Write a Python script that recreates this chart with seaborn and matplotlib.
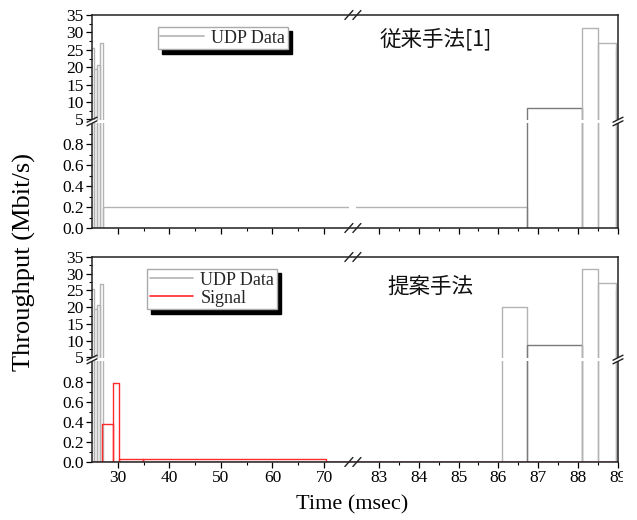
import numpy as np
import pandas as pd
import matplotlib
matplotlib.use("Agg")
import matplotlib.pyplot as plt
import seaborn as sns
from matplotlib.lines import Line2D
from matplotlib.patches import Rectangle
from matplotlib.ticker import FixedLocator, FixedFormatter, NullFormatter

# ---------------- data ----------------
# top panel (conventional method) : UDP data, bar edges (ms) and throughput (Mbit/s)
udp_edges_top = [24.6, 25.45, 26.02, 26.55, 27.08, 86.71, 88.1, 88.49, 88.94, 89.5]
udp_vals_top = [25.4, 19.4, 20.7, 26.9, 0.2, 8.4, 31.3, 26.9, 25.2]
# bottom panel (proposed method) : UDP data
udp_edges_bot = [24.6, 25.45, 26.02, 26.55, 27.08, 86.1, 86.71, 88.1, 88.49, 88.94, 89.5]
udp_vals_bot = [25.4, 19.4, 20.7, 26.9, 0.0, 20.2, 8.7, 31.4, 27.1, 25.2]
# bottom panel : Signal
sig_edges = [24.6, 27.0, 29.1, 30.2, 34.8, 70.3, 89.5]
sig_vals = [0.004, 0.38, 0.79, 0.025, 0.032, 0.004]

x_major = [30, 40, 50, 60, 70, 83, 84, 85, 86, 87, 88, 89]
x_minor = [35, 45, 55, 65, 83.5, 84.5, 85.5, 86.5, 87.5, 88.5]
y_major = [0.0, 0.2, 0.4, 0.6, 0.8, 5, 10, 15, 20, 25, 30, 35]
y_major_labels = ["0.0", "0.2", "0.4", "0.6", "0.8", "5", "10", "15", "20", "25", "30", "35"]
y_minor = [0.1, 0.3, 0.5, 0.7, 0.9, 7.5, 12.5, 17.5, 22.5, 27.5, 32.5]

titles = ["従来手法[1]", "提案手法"]
legend_labels = ["UDP Data", "Signal"]
xlabel = "Time (msec)"
ylabel = "Throughput (Mbit/s)"

# ---------------- broken-axis scales ----------------
XL, XB1, XB2, XR = 25.0, 75.6, 82.35, 89.0
FX = 0.496  # fraction of width for left segment
KX = ((XB1 - XL) * (1 - FX) / FX) / (XR - XB2)

YL, YB1, YB2, YT = 0.0, 1.02, 4.4, 35.0
KY = (YB1 - YL) / (YT - YB2)


def xf(x):
    x = np.asarray(x, float)
    return np.where(x <= XB1, x, np.where(x >= XB2, XB1 + (x - XB2) * KX, XB1))


def xi(t):
    t = np.asarray(t, float)
    return np.where(t <= XB1, t, XB2 + (t - XB1) / KX)


def yf(y):
    y = np.asarray(y, float)
    return np.where(y <= YB1, y, np.where(y >= YB2, YB1 + (y - YB2) * KY, YB1))


def yi(t):
    t = np.asarray(t, float)
    return np.where(t <= YB1, t, YB2 + (t - YB1) / KY)


def outline_frame(edges, vals):
    """Rectangle outline of each bar (one unit per bar) built from edges/values."""
    rows = []
    for k, v in enumerate(vals):
        e0, e1 = edges[k], edges[k + 1]
        for t, y in [(e0, 0.0), (e0, v), (e1, v), (e1, 0.0), (e0, 0.0)]:
            rows.append({"t": t, "v": y, "bar": k})
    return pd.DataFrame(rows)


sns.set_theme(style="ticks")
plt.rcParams["font.family"] = ["Liberation Serif", "DejaVu Serif"]
plt.rcParams["axes.linewidth"] = 1.0

W, H = 637, 520
fig = plt.figure(figsize=(W / 100, H / 100), dpi=100)

ax_left, ax_right = 92, 618
panels = [(15, 228), (257, 462)]
axes = []
for top, bot in panels:
    ax = fig.add_axes([ax_left / W, 1 - bot / H, (ax_right - ax_left) / W, (bot - top) / H])
    axes.append(ax)

LIGHT = "#b3b3b3"
DARK = "#7a7a7a"
RED = "#ff2a2a"


def draw_bars(ax, edges, vals, colors, lw=1.0, z=1):
    df = outline_frame(edges, vals)
    pal = {k: colors[k] for k in range(len(vals))}
    sns.lineplot(data=df, x="t", y="v", hue="bar", units="bar", estimator=None,
                 sort=False, palette=pal, linewidth=lw, legend=False, ax=ax, zorder=z)


udp_colors_top = [LIGHT, LIGHT, LIGHT, LIGHT, LIGHT, DARK, LIGHT, LIGHT, LIGHT]
udp_colors_bot = [LIGHT, LIGHT, LIGHT, LIGHT, LIGHT, LIGHT, DARK, LIGHT, LIGHT, LIGHT]
sig_colors = [RED] * len(sig_vals)

for i, ax in enumerate(axes):
    ax.set_xscale("function", functions=(xf, xi))
    ax.set_yscale("function", functions=(yf, yi))
    if i == 0:
        draw_bars(ax, udp_edges_top, udp_vals_top, udp_colors_top)
    else:
        draw_bars(ax, udp_edges_bot, udp_vals_bot, udp_colors_bot)
        draw_bars(ax, sig_edges, sig_vals, sig_colors, z=1.5)

    ax.set_xlim(XL, XR)
    ax.set_ylim(YL, YT)
    ax.set_xlabel("")
    ax.set_ylabel("")
    ax.xaxis.set_major_locator(FixedLocator(x_major))
    ax.xaxis.set_minor_locator(FixedLocator(x_minor))
    ax.yaxis.set_major_locator(FixedLocator(y_major))
    ax.yaxis.set_minor_locator(FixedLocator(y_minor))
    ax.yaxis.set_major_formatter(FixedFormatter(y_major_labels))
    ax.yaxis.set_minor_formatter(NullFormatter())
    ax.xaxis.set_minor_formatter(NullFormatter())
    if i == 0:
        ax.xaxis.set_major_formatter(NullFormatter())
    else:
        ax.xaxis.set_major_formatter(FixedFormatter([str(v) for v in x_major]))
    ax.tick_params(axis="both", which="major", direction="out", length=4.5, width=0.9,
                   labelsize=12.5, color="black", pad=1.5, labelcolor="black")
    ax.tick_params(axis="both", which="minor", direction="out", length=2.5, width=0.8,
                   color="black")
    ax.tick_params(axis="y", which="both", right=False)
    ax.tick_params(axis="x", which="both", top=False)
    for s in ax.spines.values():
        s.set_visible(True)
        s.set_color("#222222")
        s.set_linewidth(1.1)
    ax.grid(False)
    ax.set_facecolor("white")

    # ----- break gaps and marks -----
    bb = ax.get_position()
    wpx = bb.width * W
    hpx = bb.height * H
    xbf = (XB1 - XL) / (XB1 - XL + (XR - XB2) * KX)
    ybf = (YB1 - YL) / (YB1 - YL + (YT - YB2) * KY)
    ax.add_patch(Rectangle((xbf - 3.5 / wpx, 0.004), 7 / wpx, 0.992, transform=ax.transAxes,
                           facecolor="white", edgecolor="none", zorder=2.2))
    ax.add_patch(Rectangle((-4 / wpx, ybf - 1.6 / hpx), 1 + 8 / wpx, 3.2 / hpx,
                           transform=ax.transAxes, facecolor="white", edgecolor="none",
                           zorder=3, clip_on=False))
    for yb in (0.0, 1.0):
        for off in (-4.0, 4.0):
            cx = xbf + off / wpx
            ax.add_line(Line2D([cx - 4 / wpx, cx + 4 / wpx], [yb - 4.5 / hpx, yb + 4.5 / hpx],
                               transform=ax.transAxes, color="#222222", lw=1.0,
                               clip_on=False, zorder=4))
    for xb in (0.0, 1.0):
        for off in (-1.8, 1.8):
            cy = ybf + off / hpx
            ax.add_line(Line2D([xb - 5 / wpx, xb + 5 / wpx], [cy - 2.5 / hpx, cy + 2.5 / hpx],
                               transform=ax.transAxes, color="#222222", lw=1.0,
                               clip_on=False, zorder=4))

# ----- titles -----
axes[0].text(0.546, 0.887, titles[0], transform=axes[0].transAxes, fontsize=15.5,
             family=["Noto Sans CJK JP", "DejaVu Sans"], va="center", ha="left", color="#111111")
axes[1].text(0.561, 0.854, titles[1], transform=axes[1].transAxes, fontsize=15.5,
             family=["Noto Sans CJK JP", "DejaVu Sans"], va="center", ha="left", color="#111111")

# ----- legends -----
shadow = {"ox": 3, "oy": -3, "facecolor": "black", "edgecolor": "black", "alpha": 1}
h_udp = Line2D([], [], color=LIGHT, lw=1.2)
h_sig = Line2D([], [], color=RED, lw=1.2)
for ax, handles, labels, anchor in [
    (axes[0], [h_udp], legend_labels[:1], (0.125, 0.944)),
    (axes[1], [h_udp, h_sig], legend_labels, (0.105, 0.941)),
]:
    leg = ax.legend(handles=handles, labels=labels, loc="upper left", bbox_to_anchor=anchor,
                    frameon=True, fancybox=False, shadow=shadow, fontsize=13,
                    handlelength=2.4, handletextpad=0.4, borderpad=0.15,
                    labelspacing=0.05, borderaxespad=0, framealpha=1)
    leg.get_frame().set_edgecolor("#aaaaaa")
    leg.get_frame().set_linewidth(1.0)
    leg.set_zorder(5)

# ----- axis labels -----
fig.text(352 / W, 1 - 505 / H, xlabel, ha="center", va="center", fontsize=16, color="black")
fig.text(24 / W, 0.497, ylabel, ha="center", va="center", rotation=90, fontsize=19, color="black")

# the reference image is cropped just right of the last tick label
fig.patches.append(Rectangle((623 / W, 0), 1 - 623 / W, 1 - 466 / H, transform=fig.transFigure,
                             facecolor="white", edgecolor="none", zorder=10))

fig.savefig("out.png", dpi=100, facecolor="white")
